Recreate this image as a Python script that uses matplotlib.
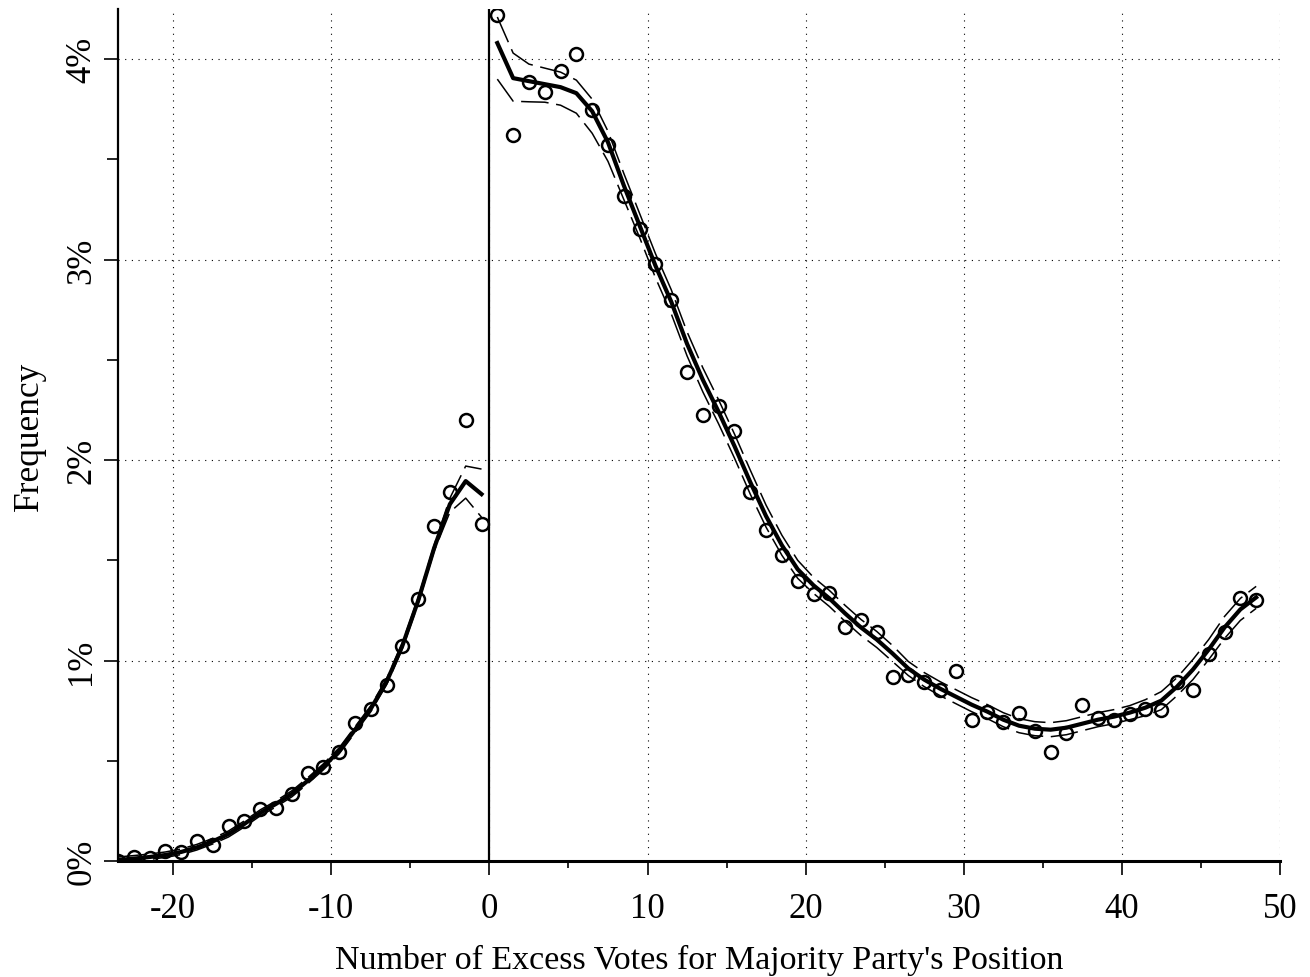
import numpy as np
import matplotlib.pyplot as plt
from matplotlib.ticker import MultipleLocator, FuncFormatter

# x positions (excess votes), left and right of the cut at 0
x_left = [-23.5, -22.5, -21.5, -20.5, -19.5, -18.5, -17.5, -16.5, -15.5, -14.5, -13.5, -12.5,
          -11.5, -10.5, -9.5, -8.5, -7.5, -6.5, -5.5, -4.5, -3.5, -2.5, -1.5, -0.5]
x_right = [0.5, 1.5, 2.5, 3.5, 4.5, 5.5, 6.5, 7.5, 8.5, 9.5, 10.5, 11.5, 12.5, 13.5, 14.5, 15.5,
           16.5, 17.5, 18.5, 19.5, 20.5, 21.5, 22.5, 23.5, 24.5, 25.5, 26.5, 27.5, 28.5, 29.5,
           30.5, 31.5, 32.5, 33.5, 34.5, 35.5, 36.5, 37.5, 38.5, 39.5, 40.5, 41.5, 42.5, 43.5,
           44.5, 45.5, 46.5, 47.5, 48.5]

# observed frequencies (%)
obs_left = [0.0, 0.02, 0.015, 0.05, 0.047, 0.1, 0.08, 0.175, 0.2, 0.26, 0.265, 0.335,
            0.44, 0.47, 0.545, 0.69, 0.758, 0.878, 1.074, 1.307, 1.672, 1.84, 2.2, 1.68]
obs_right = [4.221, 3.621, 3.884, 3.834, 3.939, 4.025, 3.746, 3.573, 3.318, 3.152, 2.976, 2.80,
             2.437, 2.226, 2.271, 2.143, 1.84, 1.653, 1.528, 1.398, 1.332, 1.338, 1.166, 1.203,
             1.14, 0.92, 0.928, 0.895, 0.855, 0.947, 0.703, 0.744, 0.695, 0.738, 0.65, 0.546,
             0.637, 0.778, 0.712, 0.702, 0.735, 0.76, 0.753, 0.894, 0.851, 1.032, 1.14, 1.312, 1.30]

# fitted curve
fit_left = [0.005, 0.012, 0.02, 0.03, 0.045, 0.068, 0.098, 0.135, 0.185, 0.24, 0.285, 0.335,
            0.40, 0.47, 0.55, 0.655, 0.76, 0.895, 1.075, 1.30, 1.56, 1.78, 1.895, 1.83]
fit_right = [4.08, 3.905, 3.89, 3.875, 3.86, 3.83, 3.74, 3.585, 3.37, 3.17, 2.97, 2.79,
             2.58, 2.40, 2.24, 2.07, 1.89, 1.72, 1.575, 1.455, 1.375, 1.31, 1.235, 1.165,
             1.105, 1.035, 0.96, 0.905, 0.86, 0.82, 0.78, 0.745, 0.705, 0.675, 0.66, 0.655,
             0.665, 0.685, 0.705, 0.72, 0.74, 0.765, 0.80, 0.87, 0.955, 1.055, 1.165, 1.255, 1.315]

# confidence bands
upper_left = [0.02, 0.027, 0.035, 0.045, 0.06, 0.083, 0.113, 0.15, 0.2, 0.255, 0.3, 0.35,
              0.415, 0.485, 0.565, 0.67, 0.775, 0.91, 1.09, 1.315, 1.575, 1.81, 1.97, 1.955]
lower_left = [-0.005, 0.0, 0.008, 0.018, 0.032, 0.055, 0.085, 0.12, 0.17, 0.225, 0.27, 0.32,
              0.385, 0.455, 0.535, 0.64, 0.745, 0.88, 1.06, 1.285, 1.545, 1.74, 1.81, 1.715]
upper_right = [4.21, 4.03, 3.975, 3.955, 3.935, 3.895, 3.80, 3.64, 3.43, 3.23, 3.03, 2.85,
               2.64, 2.46, 2.30, 2.13, 1.95, 1.775, 1.625, 1.50, 1.415, 1.35, 1.275, 1.205,
               1.145, 1.075, 0.995, 0.94, 0.895, 0.855, 0.815, 0.78, 0.74, 0.71, 0.695, 0.69,
               0.70, 0.72, 0.74, 0.755, 0.775, 0.805, 0.845, 0.915, 1.005, 1.105, 1.22, 1.31, 1.37]
lower_right = [3.90, 3.79, 3.787, 3.785, 3.77, 3.73, 3.63, 3.49, 3.30, 3.11, 2.91, 2.73,
               2.52, 2.34, 2.18, 2.01, 1.83, 1.665, 1.525, 1.41, 1.335, 1.27, 1.195, 1.125,
               1.065, 0.995, 0.925, 0.87, 0.825, 0.785, 0.745, 0.71, 0.67, 0.64, 0.625, 0.62,
               0.63, 0.65, 0.67, 0.685, 0.705, 0.725, 0.755, 0.825, 0.905, 1.005, 1.11, 1.20, 1.26]

plt.rcParams['font.family'] = ['Liberation Serif', 'DejaVu Serif']
plt.rcParams['axes.unicode_minus'] = False  # plain hyphen like the original

fig = plt.figure(figsize=(13.1, 9.78), dpi=100)
ax = fig.add_axes([0.090, 0.1186, 0.887, 0.8712])

dash = (0, (18, 5))
for xs, fit, up, lo in [(x_left, fit_left, upper_left, lower_left),
                        (x_right, fit_right, upper_right, lower_right)]:
    ax.plot(xs, up, color='black', lw=1.1, linestyle=dash, zorder=3)
    ax.plot(xs, lo, color='black', lw=1.1, linestyle=dash, zorder=3)
    ax.plot(xs, fit, color='black', lw=3.0, zorder=4)

ax.plot(x_left + x_right, obs_left + obs_right, 'o', mfc='none', mec='black',
        ms=9.3, mew=1.8, zorder=5)

ax.axvline(0, color='black', lw=1.6, zorder=2)

ax.set_xlim(-23.5, 50)
ax.set_ylim(0, 4.25)

ax.xaxis.set_major_locator(MultipleLocator(10))
ax.xaxis.set_minor_locator(MultipleLocator(5))
ax.yaxis.set_major_locator(MultipleLocator(1))
ax.yaxis.set_minor_locator(MultipleLocator(0.5))
ax.yaxis.set_major_formatter(FuncFormatter(lambda v, p: '%d%%' % round(v)))

ax.grid(True, which='major', color='black', lw=0.8, linestyle=(0, (1, 5)))

for s in ['top', 'right']:
    ax.spines[s].set_visible(False)
ax.spines['left'].set_linewidth(1.6)
ax.spines['bottom'].set_linewidth(2.2)

ax.tick_params(axis='x', which='major', direction='out', length=10, width=1.2,
               labelsize=25, pad=12)
ax.tick_params(axis='y', which='major', direction='out', length=10, width=1.2,
               labelsize=25, pad=4)
ax.tick_params(axis='x', which='minor', direction='out', length=5, width=1.2)
ax.tick_params(axis='y', which='minor', direction='out', length=8, width=1.2)
for lab in ax.get_yticklabels():
    lab.set_rotation(90)
    lab.set_va('center')

ax.set_xlabel("Number of Excess Votes for Majority Party's Position", fontsize=24.5, labelpad=14)
ax.set_ylabel('Frequency', fontsize=25.5, labelpad=14)

fig.savefig('out.png', dpi=100)
